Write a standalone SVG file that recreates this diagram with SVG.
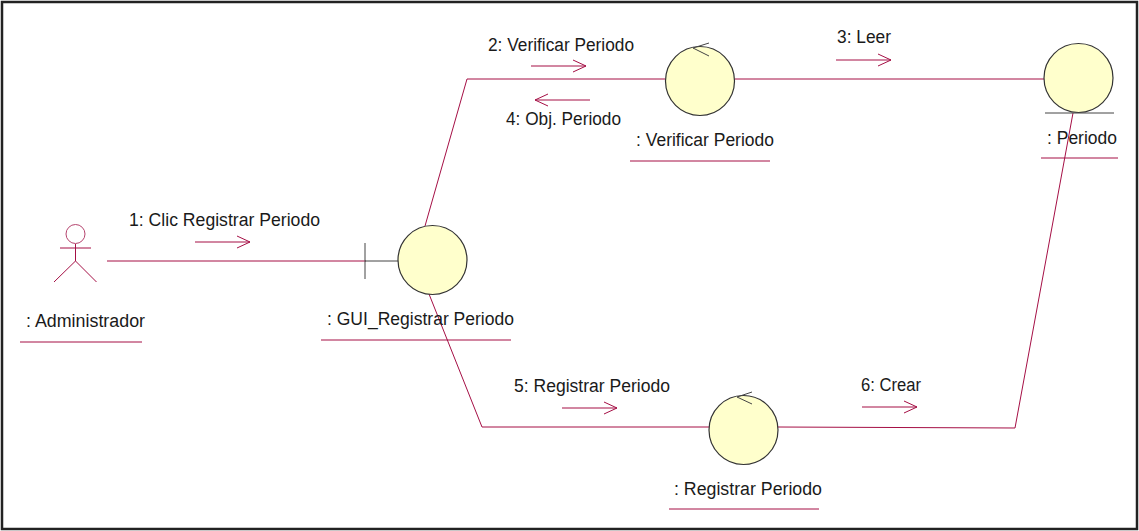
<svg xmlns="http://www.w3.org/2000/svg" width="1139" height="531" viewBox="0 0 1139 531">
<defs>
<style>
.c{fill:none;stroke:#a50f45;stroke-width:1}
.u{fill:none;stroke:#a50f45;stroke-width:1}
.o{fill:#ffffcc;stroke:#333;stroke-width:1.2}
.k{fill:none;stroke:#444;stroke-width:1}
text{font-family:"Liberation Sans",Arial,sans-serif;font-size:17.6px;fill:#1a1a1a}
</style>
<path id="ar" d="M0 0H55M42-6L55 0L42 6" class="c"/>
<path id="al" d="M0 0H55M13-6L0 0L13 6" class="c"/>
</defs>
<rect width="1139" height="531" fill="#fff"/>
<rect x="2" y="2" width="1135" height="527" fill="none" stroke="#222" stroke-width="2.5"/>
<g id="connectors">
<path class="c" d="M107 261H366"/>
<path class="c" d="M425 226L467 79H665"/>
<path class="c" d="M735 79H1044"/>
<path class="c" d="M429 294L482 427H709"/>
<path class="c" d="M778 427L1015 428L1073 113"/>
<use href="#ar" x="195" y="242"/>
<use href="#ar" x="531" y="66"/>
<use href="#al" x="535" y="100"/>
<use href="#ar" x="836" y="60"/>
<use href="#ar" x="562" y="408"/>
<use href="#ar" x="862" y="407"/>
<text x="129" y="226" textLength="191" lengthAdjust="spacingAndGlyphs">1: Clic Registrar Periodo</text>
<text x="488" y="51" textLength="146" lengthAdjust="spacingAndGlyphs">2: Verificar Periodo</text>
<text x="506" y="125" textLength="115" lengthAdjust="spacingAndGlyphs">4: Obj. Periodo</text>
<text x="837" y="43" textLength="54" lengthAdjust="spacingAndGlyphs">3: Leer</text>
<text x="514" y="392" textLength="156" lengthAdjust="spacingAndGlyphs">5: Registrar Periodo</text>
<text x="861" y="391" textLength="60" lengthAdjust="spacingAndGlyphs">6: Crear</text>
</g>
<g id="administrador">
<circle cx="75.500" cy="234" r="9.500" fill="#fff" stroke="#b5446e"/>
<path class="c" d="M60 248H91M75.500 244V261M54 282L75.500 261L96.500 282"/>
<text x="26" y="327" textLength="119" lengthAdjust="spacingAndGlyphs">: Administrador</text>
<path class="u" d="M20 342H142"/>
</g>
<g id="gui">
<path class="k" d="M365 243V279M365 261H398"/>
<circle class="o" cx="432.500" cy="260" r="34.500"/>
<text x="327" y="325" textLength="187" lengthAdjust="spacingAndGlyphs">: GUI_Registrar Periodo</text>
<path class="u" d="M321 340H511"/>
</g>
<g id="verificar">
<circle class="o" cx="700" cy="81" r="34.500"/>
<path class="k" d="M709 43L693 48L709 56"/>
<text x="636" y="146" textLength="138" lengthAdjust="spacingAndGlyphs">: Verificar Periodo</text>
<path class="u" d="M630 161H770"/>
</g>
<g id="periodo">
<circle class="o" cx="1078.500" cy="78" r="34.500"/>
<path class="k" d="M1045 113H1114"/>
<text x="1047" y="144" textLength="70" lengthAdjust="spacingAndGlyphs">: Periodo</text>
<path class="u" d="M1041 158H1118"/>
</g>
<g id="registrar">
<circle class="o" cx="743.500" cy="430" r="34.500"/>
<path class="k" d="M752 392L737 397L752 404"/>
<text x="674" y="495" textLength="148" lengthAdjust="spacingAndGlyphs">: Registrar Periodo</text>
<path class="u" d="M669 509H819"/>
</g>
</svg>
